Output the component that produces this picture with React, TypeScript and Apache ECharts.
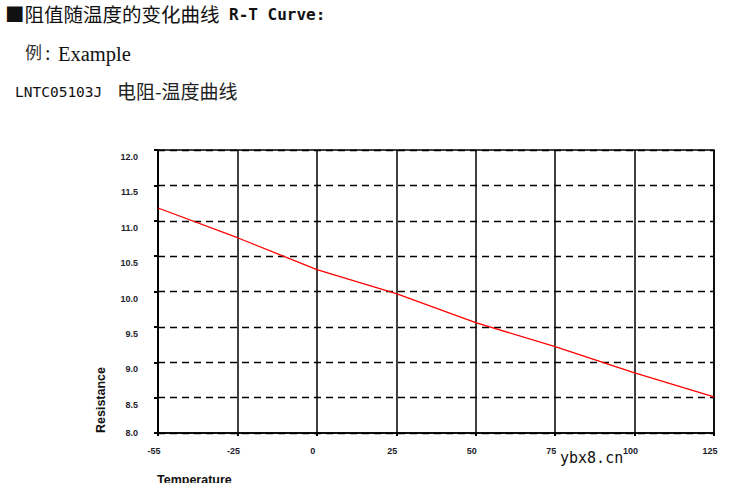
import React, { useEffect, useRef } from "react";
import * as echarts from "echarts";

const temperatures = ["-55", "-25", "0", "25", "50", "75", "100", "125"];
const resistance = [11.18, 10.76, 10.31, 9.97, 9.56, 9.22, 8.85, 8.51];

const titleMain = "■阻值随温度的变化曲线";
const titleEn = "R-T Curve:";
const exampleCn = "例";
const exampleColon = ":";
const exampleEn = "Example";
const partNo = "LNTC05103J";
const partDesc = "电阻-温度曲线";
const yName = "Resistance";
const xName = "Temperature";
const watermark = "ybx8.cn";

export default function App() {
  const ref = useRef<HTMLDivElement>(null);
  useEffect(() => {
    document.body.style.margin = "0";
    const chart = echarts.init(ref.current!, null, { renderer: "svg" });
    const labelFont = {
      fontFamily: "Liberation Sans, Arial",
      fontWeight: "bold",
      fontSize: 9,
      color: "#1d1d2b",
    };
    chart.setOption({
      animation: false,
      backgroundColor: "#ffffff",
      grid: {
        left: 158,
        right: 25,
        top: 150,
        bottom: 57,
        show: true,
        borderColor: "#000",
        borderWidth: 1.5,
      },
      xAxis: {
        type: "category",
        data: temperatures,
        boundaryGap: false,
        axisLine: { lineStyle: { color: "#000", width: 1.5 } },
        axisTick: { show: true, length: 3, lineStyle: { color: "#000", width: 2 } },
        axisLabel: {
          ...labelFont,
          margin: 13,
          padding: [0, 8, 0, 0],
        },
        splitLine: { show: true, lineStyle: { color: "#000", width: 1.5, type: "solid" } },
      },
      yAxis: {
        type: "value",
        min: 8,
        max: 12,
        interval: 0.5,
        axisLine: { show: true, lineStyle: { color: "#000", width: 1.5 } },
        axisTick: { show: true, length: 4, lineStyle: { color: "#000", width: 2 } },
        axisLabel: {
          ...labelFont,
          margin: 20,
          verticalAlign: "middle",
          formatter: (v: number) => (v === 8 ? `{l|${v.toFixed(1)}}` : `{n|${v.toFixed(1)}}`),
          rich: {
            n: { ...labelFont, padding: [14, 0, 0, 0] },
            l: { ...labelFont, padding: [0, 0, 0, 0] },
          },
        },
        splitLine: { show: true, lineStyle: { color: "#000", width: 1.3, type: [7, 5] } },
      },
      series: [
        {
          type: "line",
          data: resistance,
          symbol: "none",
          lineStyle: { color: "#ff0000", width: 1.3 },
          z: 5,
        },
      ],
      graphic: [
        {
          type: "text",
          x: 5,
          y: 4,
          style: {
            text: titleMain,
            fontFamily: "Noto Sans CJK SC",
            fontSize: 19.5,
            fill: "#111",
            verticalAlign: "top",
          },
        },
        {
          type: "text",
          x: 229,
          y: 6,
          style: {
            text: titleEn,
            fontFamily: "DejaVu Sans Mono",
            fontSize: 16,
            fontWeight: "bold",
            fill: "#111",
            verticalAlign: "top",
          },
        },
        {
          type: "text",
          x: 25,
          y: 43,
          style: {
            text: exampleCn,
            fontFamily: "Noto Sans CJK SC",
            fontSize: 17,
            fill: "#333",
            verticalAlign: "top",
          },
        },
        {
          type: "text",
          x: 45,
          y: 43,
          style: {
            text: exampleColon,
            fontFamily: "Liberation Serif",
            fontSize: 20,
            fill: "#111",
            verticalAlign: "top",
          },
        },
        {
          type: "text",
          x: 58,
          y: 43,
          style: {
            text: exampleEn,
            fontFamily: "Liberation Serif",
            fontSize: 20.5,
            fill: "#111",
            verticalAlign: "top",
          },
        },
        {
          type: "text",
          x: 15,
          y: 84,
          style: {
            text: partNo,
            fontFamily: "DejaVu Sans Mono",
            fontSize: 14.5,
            fill: "#111",
            verticalAlign: "top",
          },
        },
        {
          type: "text",
          x: 117,
          y: 81,
          style: {
            text: partDesc,
            fontFamily: "Noto Sans CJK SC",
            fontSize: 19,
            fill: "#222",
            verticalAlign: "top",
          },
        },
        {
          type: "text",
          x: 101,
          y: 400,
          rotation: Math.PI / 2,
          style: {
            text: yName,
            fontFamily: "Liberation Sans, Arial",
            fontWeight: "bold",
            fontSize: 12.5,
            fill: "#111",
            align: "center",
            verticalAlign: "middle",
          },
        },
        {
          type: "text",
          x: 157,
          y: 473,
          style: {
            text: xName,
            fontFamily: "Liberation Sans, Arial",
            fontWeight: "bold",
            fontSize: 12.5,
            fill: "#111",
            align: "left",
            verticalAlign: "top",
          },
        },
        {
          type: "rect",
          shape: { x: 0, y: 483, width: 739, height: 7 },
          style: { fill: "#ffffff" },
          z: 100,
        },
        {
          type: "text",
          x: 560,
          y: 450,
          style: {
            text: watermark,
            fontFamily: "DejaVu Sans Mono",
            fontSize: 15,
            fill: "#111",
            align: "left",
            verticalAlign: "top",
          },
          z: 50,
        },
      ],
    });
    return () => chart.dispose();
  }, []);
  return (
    <div
      ref={ref}
      style={{ position: "absolute", left: 0, top: 0, width: 739, height: 490 }}
    />
  );
}
